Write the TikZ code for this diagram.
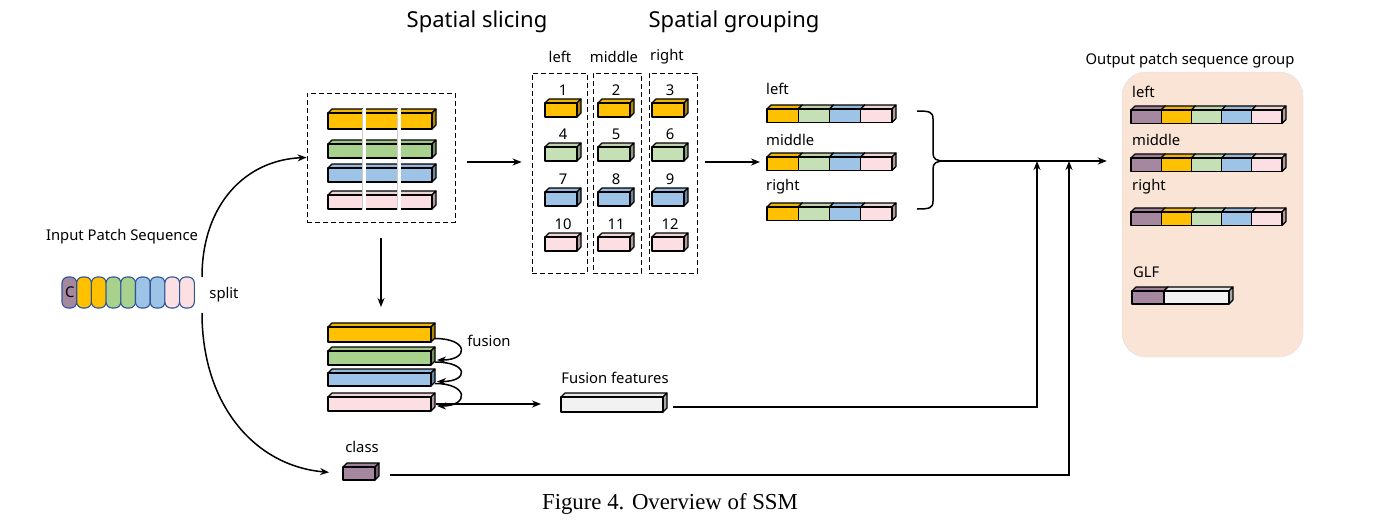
\documentclass[tikz,border=0pt]{standalone}
\usepackage{fontspec}
\setmainfont{Noto Sans}
\newfontfamily\capfont{Liberation Serif}
\usetikzlibrary{arrows.meta}
\definecolor{cpur}{RGB}{166,135,160}
\definecolor{corg}{RGB}{255,192,0}
\definecolor{cgrn}{RGB}{169,209,142}
\definecolor{cgrl}{RGB}{197,224,180}
\definecolor{cblu}{RGB}{157,195,230}
\definecolor{cpnk}{RGB}{252,223,226}
\definecolor{cgry}{RGB}{242,242,242}
\definecolor{cpch}{RGB}{250,228,214}
\definecolor{cpill}{RGB}{47,85,151}
% name, x1, y1, x2, y2, colour
\newcommand\mycube[6]{%
 \filldraw[cubeline, fill=#6!95!black] (#2,#3) -- ({(#2)+4},{(#3)-4}) -- ({(#4)+4},{(#3)-4}) -- (#4,#3) -- cycle;
 \filldraw[cubeline, fill=#6!70!black] (#4,#3) -- ({(#4)+4},{(#3)-4}) -- ({(#4)+4},{(#5)-4}) -- (#4,#5) -- cycle;
 \node[cubeface, fill=#6, minimum width={((#4)-(#2))*1pt}, minimum height={((#5)-(#3))*1pt}] (#1) at ({((#2)+(#4))/2},{((#3)+(#5))/2}) {};
}
\begin{document}
\begin{tikzpicture}[x=1pt,y=-1pt,
 cubeline/.style={draw=black, line width=1.1pt, line join=round},
 cubeface/.style={cubeline, rectangle, inner sep=0pt, outer sep=0pt},
 arr/.style={line width=1.5pt, -{Stealth[length=9pt,width=7pt]}},
 lab/.style={font=\fontsize{14.8}{17}\selectfont, inner sep=0pt},
 ttl/.style={font=\fontsize{22}{26}\selectfont, inner sep=0pt},
 dbox/.style={draw, dash pattern=on 5pt off 3pt, line width=0.85pt, rectangle, inner sep=0pt},
 pill/.style={draw=cpill, line width=1.1pt, rounded corners=6pt, rectangle, minimum width=14.7pt, minimum height=31pt, inner sep=0pt},
]
\useasboundingbox (0,0) rectangle (1375,525);

% titles
\node[ttl] (t1) at (477,22) {Spatial slicing};
\node[ttl] (t2) at (734,22) {Spatial grouping};
\node[font=\capfont\fontsize{22.8}{26}\selectfont, inner sep=0pt] (cap) at (670,504) {Figure 4. Overview of SSM};

% input sequence
\node[lab] (inlab) at (122,237) {Input Patch Sequence};
\foreach \c [count=\i] in {cpur,corg,corg,cgrn,cgrn,cblu,cblu,cpnk,cpnk}
  {\node[pill, fill=\c] (p\i) at ({62+14.7*(\i-0.5)},292.5) {};}
\node[lab] at ([xshift=0.5pt]p1) {C};
\node[lab] (split) at (224,295) {split};
\coordinate (sT) at (202,277);
\coordinate (sB) at (202,313);

% spatial slicing box
\node[dbox, minimum width=148pt, minimum height=129pt] (slice) at (381,157.5) {};
\mycube{b1}{328}{113}{432}{129}{corg}
\mycube{b2}{328}{144}{432}{158}{cgrn}
\mycube{b3}{328}{168}{432}{182}{cblu}
\mycube{b4}{328}{195}{432}{209}{cpnk}
\foreach \xx in {364,399} {
  \draw[line width=3.8pt, black!20] (\xx,108.5) -- (\xx,209.5);
  \draw[line width=3pt, white] (\xx,108) -- (\xx,210);
}

% columns
\node[dbox, minimum width=55pt, minimum height=200pt] (colL) at (559.5,173) {};
\node[dbox, minimum width=48pt, minimum height=200pt] (colM) at (617,173) {};
\node[dbox, minimum width=48pt, minimum height=200pt] (colR) at (673,173) {};
\node[lab] (hL) at (560,57) {left};
\node[lab] (hM) at (614,57) {middle};
\node[lab] (hR) at (667,57) {right};
\foreach \c/\ya [count=\r from 0] in {corg/103,cgrl/147,cblu/192,cpnk/237} {
  \foreach \xa [count=\q] in {545,598,652} {
    \pgfmathtruncatemacro\num{3*\r+\q}
    \mycube{s\num}{\xa}{\ya}{\xa+32}{\ya+14}{\c}
    \node[lab] at ([xshift=2pt,yshift=13pt]s\num.north) {\num};
  }
}

% grouping bars
\foreach \nm/\lb/\ya/\ly in {gL/left/109/89, gM/middle/157/140, gR/right/207/187} {
  \node[lab, anchor=west] (\nm lab) at (766,\ly) {\lb};
  \foreach \c [count=\i from 0] in {corg,cgrl,cblu,cpnk} {
    \mycube{\nm\i}{767+31.25*\i}{\ya}{798.25+31.25*\i}{\ya+13.5}{\c}
  }
}

% brace
\coordinate (btip) at (945,161);
\draw[line width=1.5pt] (917,111) .. controls (930,111) and (933,112) .. (933,119) -- (933,153)
  .. controls (933,159) and (936,161) .. (btip) .. controls (936,161) and (933,163) .. (933,169)
  -- (933,201) .. controls (933,208) and (930,209) .. (917,209);

% output group
\node[lab] (outlab) at (1190,61) {Output patch sequence group};
\node[fill=cpch, draw=black!12, rounded corners=24pt, minimum width=181pt, minimum height=285pt, inner sep=0pt] (outbox) at (1212.5,214.5) {};
\foreach \nm/\lb/\ya/\ly in {oL/left/110/92, oM/middle/158/140, oR/right/212/187} {
  \node[lab, anchor=west] (\nm lab) at (1132,\ly) {\lb};
  \foreach \c [count=\i from 0] in {cpur,corg,cgrl,cblu,cpnk} {
    \mycube{\nm\i}{1131+30.2*\i}{\ya}{1161.2+30.2*\i}{\ya+13.5}{\c}
  }
}
\node[lab, anchor=west] (glflab) at (1133,272) {GLF};
\mycube{glf1}{1132}{291}{1164}{304}{cpur}
\mycube{glf2}{1164}{291}{1229}{304}{cgry}

% fusion stack
\mycube{f1}{328}{327}{431}{342}{corg}
\mycube{f2}{328}{351}{431}{365}{cgrn}
\mycube{f3}{328}{373}{431}{386}{cblu}
\mycube{f4}{328}{397}{431}{411}{cpnk}
\node[lab] (fuslab) at (489,341) {fusion};
\mycube{ff}{561}{397}{663}{412}{cgry}
\node[lab] (fflab) at (615,378) {Fusion features};
\mycube{cls}{343}{467}{375}{480}{cpur}
\node[lab] (clslab) at (362,447) {class};

% connectors
\draw[arr] (sT) .. controls (202,205) and (245,160) .. (slice.west);
\draw[arr, shorten >=14pt] (sB) .. controls (202,405) and (255,466) .. (cls.west);
\coordinate (a1) at ([xshift=12pt,yshift=-4.5pt]slice.east);
\draw[arr, shorten >=10pt] (a1) -- (a1 -| colL.west);
\coordinate (a2) at ([xshift=8pt,yshift=11pt]colR.east);
\draw[arr, shorten >=7pt] (a2) -- (a2 -| gM0.west);
\draw[arr, shorten <=16pt, shorten >=20pt] (slice.south) -- (slice.south |- f1.north);
\draw[arr] ([xshift=4pt,yshift=-4pt]f1.east) .. controls +(34,0) and +(32,0) .. ([xshift=6pt,yshift=-2pt]f2.east);
\draw[arr] ([xshift=4pt,yshift=-4pt]f2.east) .. controls +(34,0) and +(32,0) .. ([xshift=6pt,yshift=-2pt]f3.east);
\draw[arr] ([xshift=4pt,yshift=-4pt]f3.east) .. controls +(34,0) and +(32,0) .. ([xshift=6pt,yshift=-2pt]f4.east);
\draw[arr, shorten >=20pt] ([xshift=5pt]f4.east) -- (f4.east -| ff.west);
\coordinate (j1) at (1037,161);
\coordinate (j2) at (1069,161);
\draw[arr] (btip) -- ([xshift=-15pt]btip -| outbox.west);
\draw[arr] ([xshift=10pt,yshift=-2.5pt]ff.east) -| (j1);
\draw[arr] ([xshift=15pt,yshift=-1.5pt]cls.east) -| (j2);
\end{tikzpicture}
\end{document}
